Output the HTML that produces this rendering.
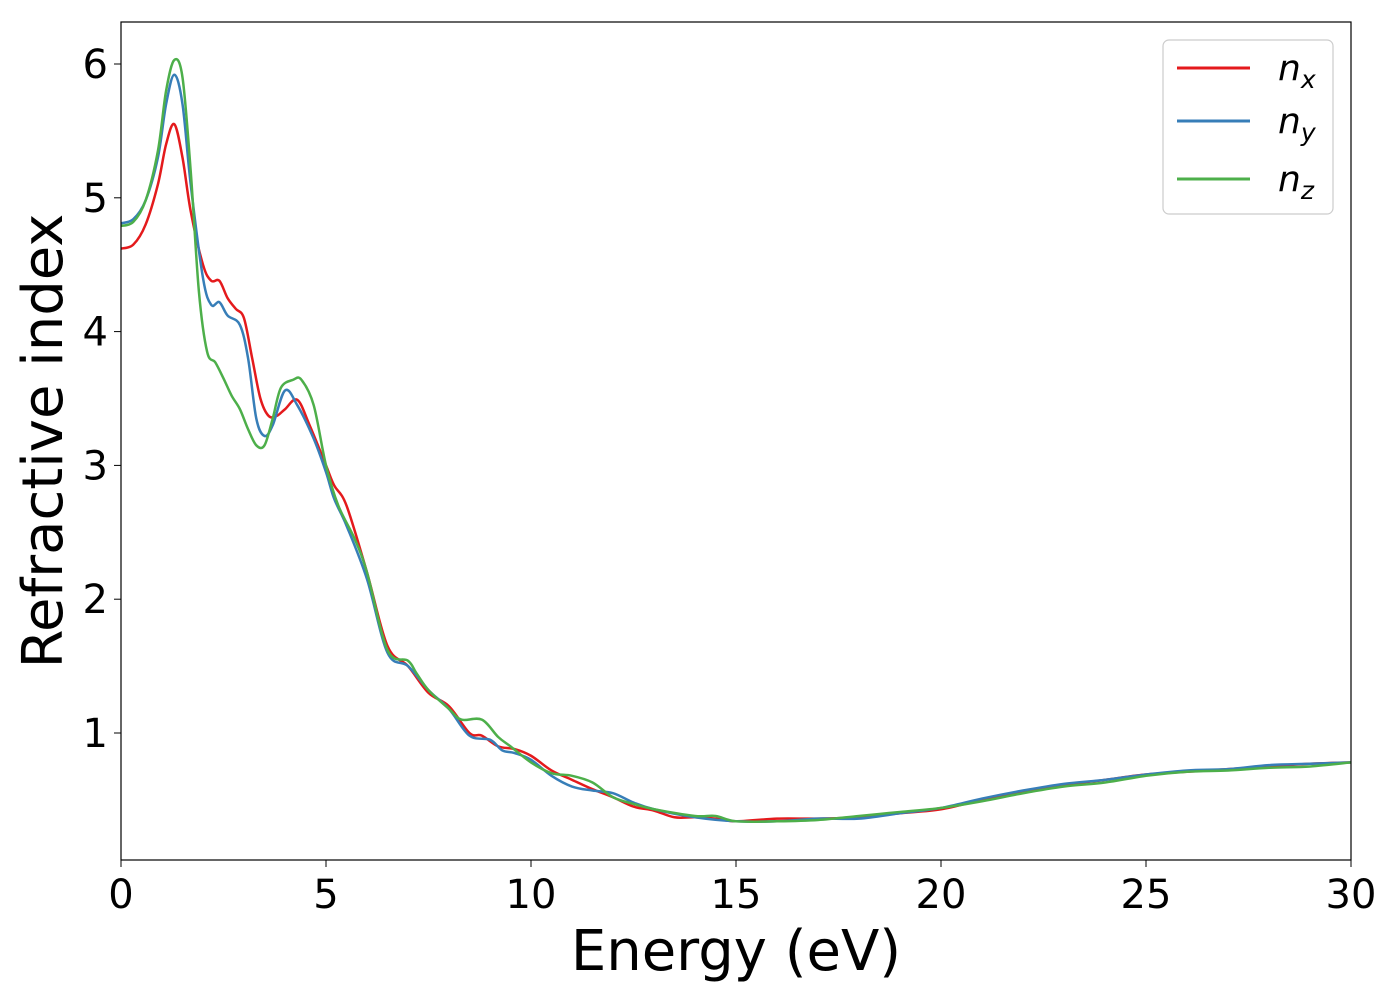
<!DOCTYPE html>
<html><head><meta charset="utf-8"><style>
body{margin:0;background:#fff;}
svg text{font-family:"DejaVu Sans","Liberation Sans",sans-serif;fill:#000;}
</style></head><body>
<svg id="chart" width="1400" height="1000" xmlns="http://www.w3.org/2000/svg">
<rect x="121" y="22" width="1230" height="838" fill="#fff"/>
<g id="series"></g>
<rect x="121" y="22" width="1230" height="838" fill="none" stroke="#000" stroke-width="1.2"/>
<g id="xticks"></g>
<g id="yticks"></g>
<text x="736" y="970" font-size="56" text-anchor="middle">Energy (eV)</text>
<text transform="translate(62,441) rotate(-90)" font-size="56" text-anchor="middle">Refractive index</text>
<g>
<rect x="1163" y="40" width="170" height="174" rx="6" fill="#fff" stroke="#ccc" stroke-width="1.2"/>
<line x1="1177" y1="68" x2="1250" y2="68" stroke="#e41a1c" stroke-width="3"/>
<text x="1278" y="80" font-size="36" font-style="italic">n<tspan font-size="25" dy="8">x</tspan></text>
<line x1="1177" y1="121" x2="1250" y2="121" stroke="#377eb8" stroke-width="3"/>
<text x="1278" y="133" font-size="36" font-style="italic">n<tspan font-size="25" dy="8">y</tspan></text>
<line x1="1177" y1="179" x2="1250" y2="179" stroke="#4daf4a" stroke-width="3"/>
<text x="1278" y="191" font-size="36" font-style="italic">n<tspan font-size="25" dy="8">z</tspan></text>
</g>
</svg>
<script>
const xTicks=[0,5,10,15,20,25,30];
const yTicks=[1,2,3,4,5,6];
const nxE=[0,0.3,0.6,0.9,1.1,1.3,1.5,1.7,2.0,2.2,2.4,2.6,2.8,3.0,3.2,3.4,3.6,3.8,4.0,4.3,4.6,5.0,5.2,5.5,6.0,6.5,7.0,7.5,8.0,8.5,8.8,9.2,9.6,10,10.5,11,11.5,12,12.5,13,13.5,14,14.5,15,16,17,18,19,20,21,22,23,24,25,26,27,28,29,30];
const nxV=[4.62,4.65,4.8,5.1,5.4,5.55,5.3,4.9,4.5,4.38,4.38,4.25,4.17,4.1,3.8,3.5,3.37,3.37,3.42,3.49,3.3,3.0,2.85,2.7,2.2,1.65,1.5,1.3,1.2,1.0,0.98,0.9,0.88,0.83,0.72,0.65,0.58,0.52,0.45,0.42,0.37,0.37,0.36,0.34,0.36,0.36,0.37,0.40,0.43,0.5,0.56,0.61,0.65,0.69,0.71,0.73,0.75,0.77,0.78];
const nyE=[0,0.3,0.6,0.9,1.1,1.3,1.5,1.7,2.0,2.2,2.4,2.6,2.9,3.1,3.3,3.5,3.7,4.0,4.3,4.7,5.0,5.2,5.5,6.0,6.5,7.0,7.5,8.0,8.5,9.0,9.3,9.6,10,10.5,11,11.5,12,12.5,13,14,15,16,17,18,19,20,21,22,23,24,25,26,27,28,29,30];
const nyV=[4.81,4.84,4.98,5.3,5.7,5.92,5.7,5.1,4.4,4.2,4.22,4.12,4.05,3.8,3.35,3.22,3.3,3.56,3.45,3.2,2.95,2.75,2.55,2.15,1.6,1.5,1.32,1.18,0.98,0.95,0.87,0.85,0.8,0.68,0.6,0.57,0.55,0.48,0.43,0.37,0.34,0.34,0.36,0.36,0.40,0.44,0.51,0.57,0.62,0.65,0.69,0.72,0.73,0.76,0.77,0.78];
const nzE=[0,0.3,0.6,0.9,1.1,1.3,1.5,1.7,1.9,2.1,2.3,2.5,2.7,2.9,3.1,3.3,3.5,3.7,3.9,4.2,4.4,4.7,5.0,5.3,5.7,6.0,6.5,7.0,7.2,7.5,8.0,8.3,8.8,9.2,9.5,10,10.5,11,11.5,12,12.5,13,14,14.5,15,16,17,18,19,20,21,22,23,24,25,26,27,28,29,30];
const nzV=[4.79,4.82,4.98,5.35,5.8,6.03,5.9,5.2,4.3,3.85,3.77,3.65,3.52,3.42,3.27,3.15,3.15,3.35,3.58,3.64,3.64,3.45,3.0,2.7,2.45,2.2,1.62,1.54,1.45,1.32,1.18,1.1,1.1,0.97,0.9,0.78,0.7,0.68,0.63,0.52,0.47,0.43,0.38,0.38,0.34,0.34,0.35,0.38,0.41,0.44,0.49,0.55,0.6,0.63,0.68,0.71,0.72,0.74,0.75,0.78];
const X=v=>121+v*41;
const Y=v=>733-(v-1)*133.8;
const NS="http://www.w3.org/2000/svg";
function path(xs,ys){
  const p=xs.map((x,i)=>[X(x),Y(ys[i])]);
  let d="M"+p[0][0]+","+p[0][1];
  for(let i=0;i<p.length-1;i++){
    const p0=p[i-1]||p[i],p1=p[i],p2=p[i+1],p3=p[i+2]||p[i+1];
    const c1=[p1[0]+(p2[0]-p0[0])/6,p1[1]+(p2[1]-p0[1])/6];
    const c2=[p2[0]-(p3[0]-p1[0])/6,p2[1]-(p3[1]-p1[1])/6];
    d+=` C${c1[0]},${c1[1]} ${c2[0]},${c2[1]} ${p2[0]},${p2[1]}`;
  }
  return d;
}
const g=document.getElementById("series");
[[nxE,nxV,"#e41a1c","series-nx"],[nyE,nyV,"#377eb8","series-ny"],[nzE,nzV,"#4daf4a","series-nz"]].forEach(s=>{
  const el=document.createElementNS(NS,"path");
  el.setAttribute("d",path(s[0],s[1]));
  el.setAttribute("fill","none");el.setAttribute("stroke",s[2]);el.setAttribute("stroke-width","2.5");
  
  
  g.appendChild(el);
});
const xt=document.getElementById("xticks");
xTicks.forEach(t=>{
  const l=document.createElementNS(NS,"line");
  l.setAttribute("x1",X(t));l.setAttribute("x2",X(t));l.setAttribute("y1",860);l.setAttribute("y2",867);l.setAttribute("stroke","#000");
  
  
  xt.appendChild(l);
  const tx=document.createElementNS(NS,"text");
  tx.setAttribute("x",X(t));tx.setAttribute("y",908);tx.setAttribute("font-size","40");tx.setAttribute("text-anchor","middle");
  tx.textContent=t;
  
  
  xt.appendChild(tx);
});
const yt=document.getElementById("yticks");
yTicks.forEach(t=>{
  const l=document.createElementNS(NS,"line");
  l.setAttribute("x1",114);l.setAttribute("x2",121);l.setAttribute("y1",Y(t));l.setAttribute("y2",Y(t));l.setAttribute("stroke","#000");
  
  
  yt.appendChild(l);
  const tx=document.createElementNS(NS,"text");
  tx.setAttribute("x",108);tx.setAttribute("y",Y(t)+14);tx.setAttribute("font-size","40");tx.setAttribute("text-anchor","end");
  tx.textContent=t;
  
  
  yt.appendChild(tx);
});
</script>
</body></html>
